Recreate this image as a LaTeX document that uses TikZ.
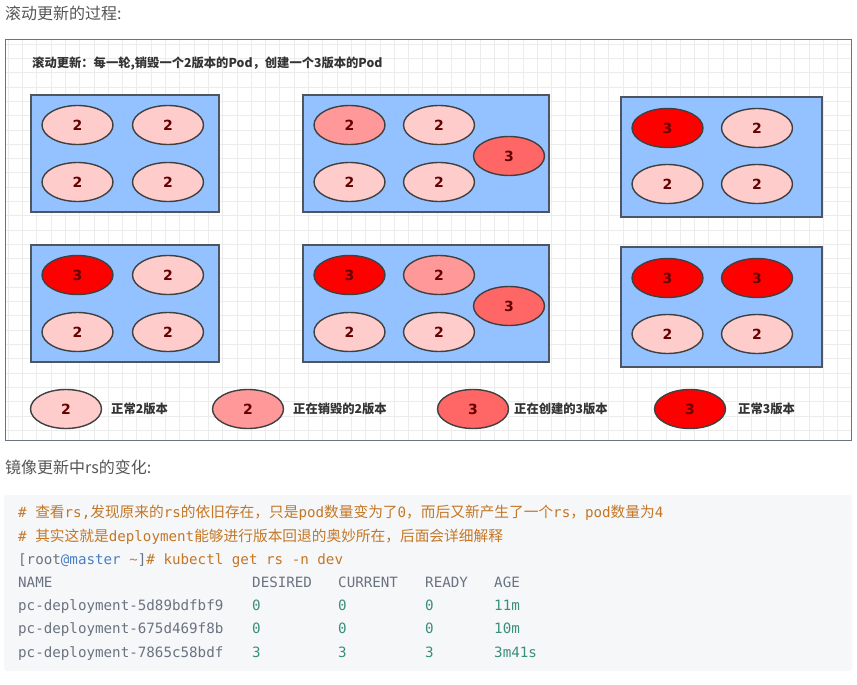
\documentclass[tikz,border=0pt]{standalone}
\usepackage{fontspec}
\usetikzlibrary{shapes.geometric}
\setmainfont{Noto Sans CJK SC}
\newfontfamily\cjk{Noto Sans CJK SC}
\newfontfamily\mono{DejaVu Sans Mono}
\newfontfamily\numf{DejaVu Sans}
\definecolor{gridc}{HTML}{ECECEC}
\definecolor{framec}{HTML}{6B7280}
\definecolor{boxfill}{HTML}{94C1FF}
\definecolor{boxline}{HTML}{4D5561}
\definecolor{podline}{HTML}{404040}
\definecolor{ctwo}{HTML}{FFCCCC}
\definecolor{ckill}{HTML}{FF9999}
\definecolor{cnew}{HTML}{FF6666}
\definecolor{cthree}{HTML}{FF0000}
\definecolor{numc}{HTML}{660000}
\definecolor{headc}{HTML}{555555}
\definecolor{legc}{HTML}{333333}
\definecolor{codebg}{HTML}{F6F7F9}
\definecolor{cmt}{HTML}{C47726}
\definecolor{plainc}{HTML}{6A7381}
\definecolor{numg}{HTML}{3A8F78}
\definecolor{userc}{HTML}{4A7FC1}
\definecolor{tildec}{HTML}{D4735A}
\newcommand\codeM[1]{{\mono\fontsize{14.2}{14}\selectfont #1}}
\newcommand\codeC[1]{{\cjk\fontsize{14.7}{14}\selectfont #1}}
\tikzset{
  podbase/.style={ellipse, draw=podline, line width=1.4pt, minimum width=71pt, minimum height=39pt, inner sep=0pt,
    font=\numf\bfseries\fontsize{14}{14}\selectfont, text=numc},
  podtwo/.style={podbase, fill=ctwo},
  podkill/.style={podbase, fill=ckill},
  podnew/.style={podbase, fill=cnew},
  podthree/.style={podbase, fill=cthree},
  boxst/.style={draw=boxline, line width=1.3pt, fill=boxfill, inner sep=0pt},
  legtext/.style={anchor=west, inner sep=0pt, font=\cjk\bfseries\fontsize{12.3}{12.3}\selectfont, text=legc},
  heading/.style={anchor=west, inner sep=0pt, font=\cjk\fontsize{16}{16}\selectfont, text=headc},
  codeline/.style={anchor=west, inner sep=0pt, text height=11pt, text depth=3pt},
  gridline/.style={draw=gridc, line width=0.6pt},
}
\begin{document}
\begin{tikzpicture}[x=1pt,y=-1pt]
\useasboundingbox (0,0) rectangle (857,685);
\fill[white] (0,0) rectangle (857,685);

% headings
\node[heading] (h1) at (5,13) {滚动更新的过程:};
\node[heading] (h2) at (5,467) {镜像更新中rs的变化:};

% diagram frame with grid
\begin{scope}
\clip (5,40) rectangle (851,440);
\foreach \i in {0,...,60} {
  \draw[gridline] ({8+\i*14.3},40) -- ({8+\i*14.3},440);
}
\foreach \j in {0,...,28} {
  \draw[gridline] (5,{44+\j*14.3}) -- (851,{44+\j*14.3});
}
\end{scope}
\draw[draw=framec, line width=1pt] (5,40) rectangle (851,440);

\node[anchor=west, inner sep=0pt, font=\cjk\bfseries\fontsize{12.3}{12.3}\selectfont, text=legc] (title) at (32,64)
  {滚动更新：每一轮,销毁一个2版本的Pod，创建一个3版本的Pod};

% boxes
\node[boxst, minimum width=188pt, minimum height=117pt] (box1) at (125,153.5) {};
\node[boxst, minimum width=246pt, minimum height=117pt] (box2) at (426,153.5) {};
\node[boxst, minimum width=201pt, minimum height=120pt] (box3) at (721.5,157) {};
\node[boxst, minimum width=188pt, minimum height=117pt] (box4) at (125,303.5) {};
\node[boxst, minimum width=246pt, minimum height=117pt] (box5) at (426,303.5) {};
\node[boxst, minimum width=201pt, minimum height=120pt] (box6) at (721.5,307) {};

% box 1
\node[podtwo] (p11) at (77.5,125) {2};
\node[podtwo] (p12) at (168,125) {2};
\node[podtwo] (p13) at (77.5,182) {2};
\node[podtwo] (p14) at (168,182) {2};
% box 2
\node[podkill] (p21) at (349.5,125) {2};
\node[podtwo] (p22) at (439,125) {2};
\node[podnew] (p25) at (509,156) {3};
\node[podtwo] (p23) at (349.5,182) {2};
\node[podtwo] (p24) at (439,182) {2};
% box 3
\node[podthree] (p31) at (667.5,128) {3};
\node[podtwo] (p32) at (757,128) {2};
\node[podtwo] (p33) at (667.5,184) {2};
\node[podtwo] (p34) at (757,184) {2};
% box 4
\node[podthree] (p41) at (77.5,275) {3};
\node[podtwo] (p42) at (168,275) {2};
\node[podtwo] (p43) at (77.5,332) {2};
\node[podtwo] (p44) at (168,332) {2};
% box 5
\node[podthree] (p51) at (349.5,275) {3};
\node[podkill] (p52) at (439,275) {2};
\node[podnew] (p55) at (509,306) {3};
\node[podtwo] (p53) at (349.5,332) {2};
\node[podtwo] (p54) at (439,332) {2};
% box 6
\node[podthree] (p61) at (667.5,278) {3};
\node[podthree] (p62) at (757,278) {3};
\node[podtwo] (p63) at (667.5,334) {2};
\node[podtwo] (p64) at (757,334) {2};

% legend
\node[podtwo] (l1) at (66,409) {2};
\node[legtext] (lt1) at (111,409) {正常2版本};
\node[podkill] (l2) at (248,409) {2};
\node[legtext] (lt2) at (293,409) {正在销毁的2版本};
\node[podnew] (l3) at (473,409) {3};
\node[legtext] (lt3) at (514,409) {正在创建的3版本};
\node[podthree] (l4) at (690,409) {3};
\node[legtext] (lt4) at (738,409) {正常3版本};

% code block
\fill[codebg, rounded corners=3pt] (4,495) rectangle (852,671);
\node[codeline, text=cmt] (c1) at (18,513)
  {\codeM{\# }\codeC{查看}\codeM{rs,}\codeC{发现原来的}\codeM{rs}\codeC{的依旧存在，只是}\codeM{pod}\codeC{数量变为了}\codeM{0}\codeC{，而后又新产生了一个}\codeM{rs}\codeC{，}\codeM{pod}\codeC{数量为}\codeM{4}};
\node[codeline, text=cmt] (c2) at (18,537)
  {\codeM{\# }\codeC{其实这就是}\codeM{deployment}\codeC{能够进行版本回退的奥妙所在，后面会详细解释}};
\node[codeline] (c3) at (18,560)
  {\codeM{\textcolor{plainc}{[root}\textcolor{userc}{@master}\ \textcolor{tildec}{\textasciitilde}\textcolor{plainc}{]}\textcolor{cmt}{\#\ kubectl\ get\ rs\ -n\ dev}}};

\node[codeline, text=plainc] (n0) at (18,583) {\codeM{NAME}};
\node[codeline, text=plainc] (d0) at (252,583) {\codeM{DESIRED}};
\node[codeline, text=plainc] (u0) at (338,583) {\codeM{CURRENT}};
\node[codeline, text=plainc] (r0) at (425,583) {\codeM{READY}};
\node[codeline, text=plainc] (a0) at (494,583) {\codeM{AGE}};

\node[codeline, text=plainc] (n1) at (18,606) {\codeM{pc-deployment-5d89bdfbf9}};
\node[codeline, text=numg] (d1) at (252,606) {\codeM{0}};
\node[codeline, text=numg] (u1) at (338,606) {\codeM{0}};
\node[codeline, text=numg] (r1) at (425,606) {\codeM{0}};
\node[codeline, text=numg] (a1) at (494,606) {\codeM{11m}};

\node[codeline, text=plainc] (n2) at (18,629) {\codeM{pc-deployment-675d469f8b}};
\node[codeline, text=numg] (d2) at (252,629) {\codeM{0}};
\node[codeline, text=numg] (u2) at (338,629) {\codeM{0}};
\node[codeline, text=numg] (r2) at (425,629) {\codeM{0}};
\node[codeline, text=numg] (a2) at (494,629) {\codeM{10m}};

\node[codeline, text=plainc] (n3) at (18,653) {\codeM{pc-deployment-7865c58bdf}};
\node[codeline, text=numg] (d3) at (252,653) {\codeM{3}};
\node[codeline, text=numg] (u3) at (338,653) {\codeM{3}};
\node[codeline, text=numg] (r3) at (425,653) {\codeM{3}};
\node[codeline, text=numg] (a3) at (494,653) {\codeM{3m41s}};
\end{tikzpicture}
\end{document}
